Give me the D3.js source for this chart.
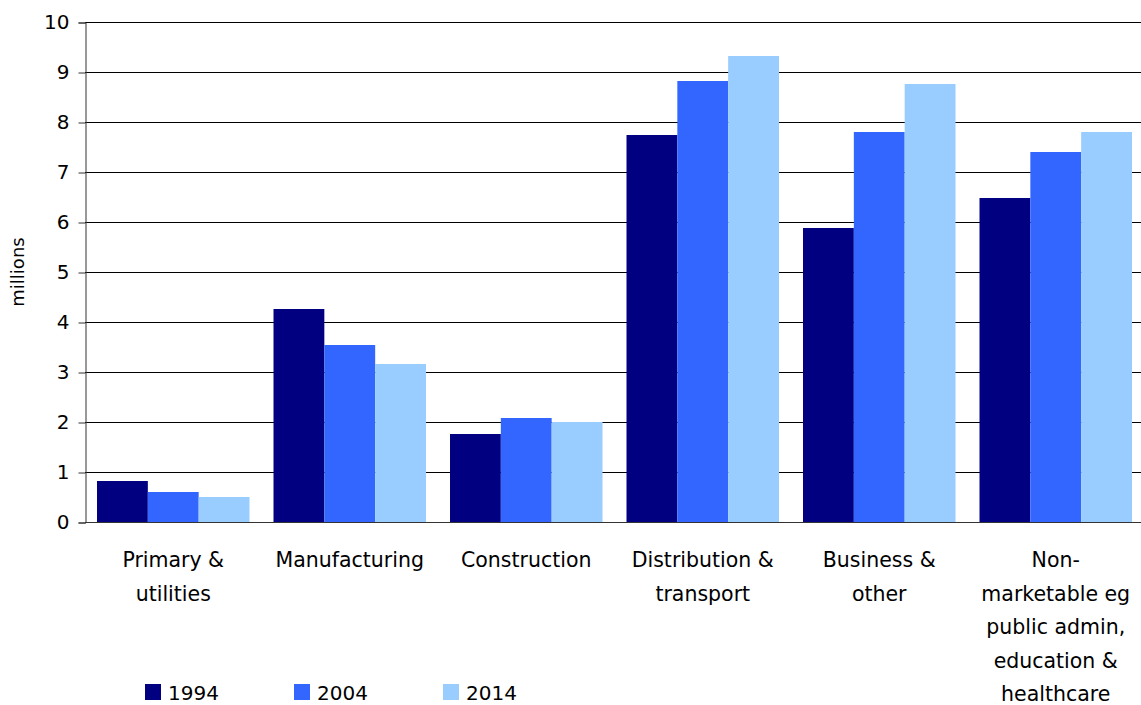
<!DOCTYPE html>
<html>
<head>
<meta charset="utf-8">
<script src="https://cdn.jsdelivr.net/npm/d3@7"></script>
<style>
  html, body { margin: 0; padding: 0; background: #fff; }
  svg { display: block; font-family: "DejaVu Sans", sans-serif; }
</style>
</head>
<body>
<svg id="chart" width="1141" height="705"></svg>
<script>
// Employment by sector (millions)
const categories = [
  "Primary &|utilities",
  "Manufacturing",
  "Construction",
  "Distribution &|transport",
  "Business &|other",
  "Non-|marketable eg|public admin,|education &|healthcare"
];
const years = ["1994", "2004", "2014"];
const values1994 = [0.82, 4.26, 1.76, 7.74, 5.88, 6.48];
const values2004 = [0.60, 3.54, 2.08, 8.82, 7.80, 7.40];
const values2014 = [0.50, 3.16, 2.00, 9.32, 8.76, 7.80];
const yTicks = [0, 1, 2, 3, 4, 5, 6, 7, 8, 9, 10];
const colors = ["#000080", "#3366FF", "#99CCFF"];

const series = [values1994, values2004, values2014];

const svg = d3.select("#chart");
const plotLeft = 85, plotRight = 1144, plotTop = 22, plotBottom = 522;

const x = d3.scaleBand()
  .domain(categories)
  .range([plotLeft, plotRight])
  .paddingInner(0.136)
  .paddingOuter(0.068);

const xSub = d3.scaleBand()
  .domain(years)
  .range([0, x.bandwidth()]);

const y = d3.scaleLinear().domain([0, 10]).range([plotBottom, plotTop]);

// horizontal gridlines
svg.append("g")
  .selectAll("line")
  .data(yTicks.filter(d => d > 0))
  .join("line")
  .attr("x1", plotLeft).attr("x2", 1141)
  .attr("y1", d => y(d) + 0.5).attr("y2", d => y(d) + 0.5)
  .attr("stroke", "#000").attr("stroke-width", 1);

// bars
years.forEach((yr, si) => {
  svg.append("g")
    .selectAll("rect")
    .data(categories.map((c, i) => ({ c, v: series[si][i] })))
    .join("rect")
    .attr("x", d => x(d.c) + xSub(yr))
    .attr("y", d => y(d.v))
    .attr("width", xSub.bandwidth())
    .attr("height", d => y(0) - y(d.v))
    .attr("fill", colors[si]);
});

// y axis
const yAxis = d3.axisLeft(y).tickValues(yTicks).tickSize(7).tickPadding(9);
const gy = svg.append("g")
  .attr("transform", `translate(${plotLeft + 0.5},0.5)`)
  .call(yAxis);
gy.select(".domain").attr("stroke", "#333");
gy.selectAll(".tick line").attr("stroke", "#333");
gy.selectAll(".tick text")
  .attr("font-size", 20)
  .attr("fill", "#000")
  .attr("font-family", "DejaVu Sans, sans-serif");

// baseline
svg.append("line")
  .attr("x1", plotLeft).attr("x2", 1141)
  .attr("y1", plotBottom + 0.5).attr("y2", plotBottom + 0.5)
  .attr("stroke", "#333");

// y title
svg.append("text")
  .attr("transform", `translate(24,${(plotTop + plotBottom) / 2}) rotate(-90)`)
  .attr("text-anchor", "middle")
  .attr("font-size", 18)
  .text("millions");

// category labels
const catG = svg.append("g");
categories.forEach(c => {
  const lines = c.split("|");
  const t = catG.append("text")
    .attr("text-anchor", "middle")
    .attr("font-size", 20.5)
    .attr("fill", "#000");
  lines.forEach((ln, i) => {
    t.append("tspan")
      .attr("x", x(c) + x.bandwidth() / 2)
      .attr("y", 567 + i * 33.5)
      .text(ln);
  });
});

// legend
const legendX = [145, 294, 443];
const lg = svg.append("g");
years.forEach((yr, i) => {
  lg.append("rect")
    .attr("x", legendX[i]).attr("y", 684)
    .attr("width", 16).attr("height", 16)
    .attr("fill", colors[i]);
  lg.append("text")
    .attr("x", legendX[i] + 23).attr("y", 700)
    .attr("font-size", 20)
    .text(yr);
});
</script>
</body>
</html>
